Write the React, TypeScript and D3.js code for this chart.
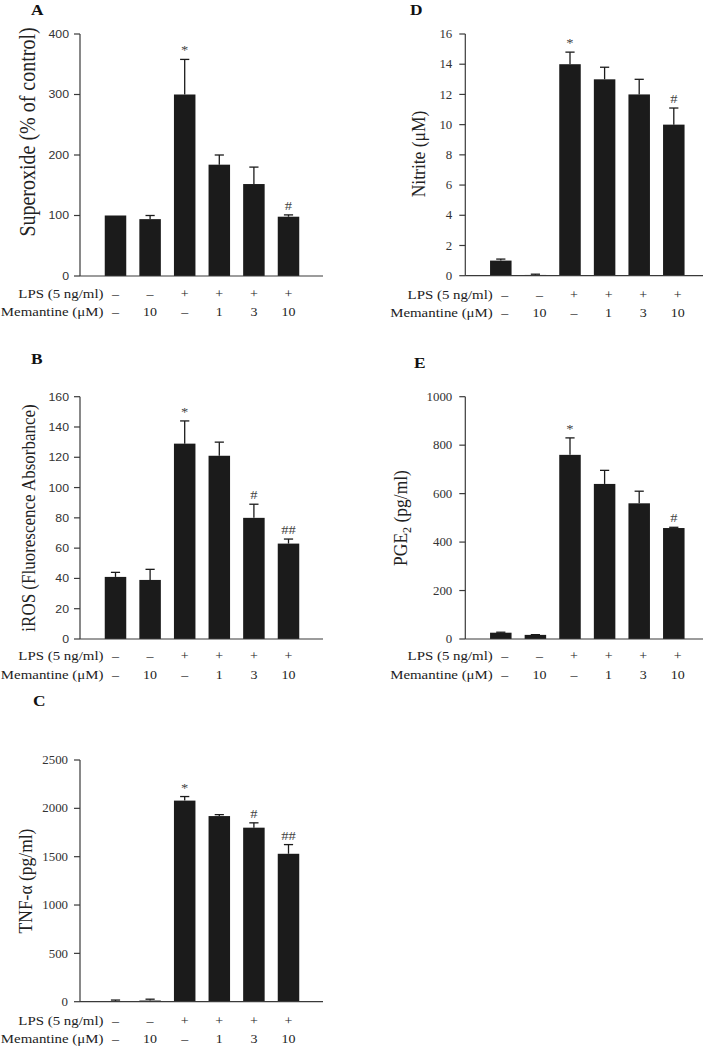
import React from "react";
import * as d3 from "d3";

// ---------- data ----------
const groups = ["g1", "g2", "g3", "g4", "g5", "g6"];
const lpsRow = ["–", "–", "+", "+", "+", "+"];
const memantineRow = ["–", "10", "–", "1", "3", "10"];

const superoxideMean = [100, 94, 300, 184, 152, 98];
const superoxideSem = [0, 6, 58, 16, 28, 3];
const superoxideSig = ["", "", "*", "", "", "#"];
const superoxideTicks = [0, 100, 200, 300, 400];

const irosMean = [41, 39, 129, 121, 80, 63];
const irosSem = [3, 7, 15, 9, 9, 3];
const irosSig = ["", "", "*", "", "#", "##"];
const irosTicks = [0, 20, 40, 60, 80, 100, 120, 140, 160];

const tnfMean = [5, 12, 2080, 1920, 1800, 1530];
const tnfSem = [12, 14, 42, 15, 50, 95];
const tnfSig = ["", "", "*", "", "#", "##"];
const tnfTicks = [0, 500, 1000, 1500, 2000, 2500];

const nitriteMean = [1.0, 0.05, 14.0, 13.0, 12.0, 10.0];
const nitriteSem = [0.1, 0.05, 0.8, 0.8, 1.0, 1.1];
const nitriteSig = ["", "", "*", "", "", "#"];
const nitriteTicks = [0, 2, 4, 6, 8, 10, 12, 14, 16];

const pgeMean = [26, 17, 760, 640, 560, 458];
const pgeSem = [2, 1, 70, 56, 50, 3];
const pgeSig = ["", "", "*", "", "", "#"];
const pgeTicks = [0, 200, 400, 600, 800, 1000];

// ---------- style ----------
const SX = 1.12;
const SERIF = "'Liberation Serif', 'Times New Roman', serif";
const SANS = "'Liberation Sans', Arial, sans-serif";
const BAR = "#1b1b1b";
const INK = "#222";
const AXIS = "#3a3a3a";

function T(props: any) {
  const { x, y, rotate, anchor = "start", size, family = SERIF, weight, fill = INK, children } = props;
  const tr = `translate(${x},${y}) scale(${SX},1)` + (rotate ? ` rotate(${rotate})` : "");
  return (
    <text transform={tr} textAnchor={anchor} fontSize={size} fontFamily={family} fontWeight={weight} fill={fill}>
      {children}
    </text>
  );
}

type PanelProps = {
  letter: string;
  letterX: number;
  letterY: number;
  x0: number;
  x1: number;
  yTop: number;
  yBot: number;
  ticks: number[];
  tickFamily: string;
  tickSize: number;
  tickGap: number;
  means: number[];
  sems: number[];
  sig: string[];
  title: React.ReactNode;
  titleX: number;
  titleY: number;
  titleSize: number;
  lpsY: number;
  memY: number;
  colShift: number;
};

function Panel(p: PanelProps) {
  const y = d3.scaleLinear().domain([0, d3.max(p.ticks) as number]).range([p.yBot, p.yTop]);
  const x = d3.scalePoint<string>().domain(groups).range([p.x0 + 35.5, p.x0 + 208.5]);
  const bw = 21.5;
  const cap = 4.6;
  const labelRight = (x(groups[0]) as number) + p.colShift - 12;
  return (
    <g>
      <T x={p.letterX} y={p.letterY} size={15.5} weight="bold" fill="#111">{p.letter}</T>
      {groups.map((g, i) => {
        const cx = x(g) as number;
        const top = y(p.means[i]);
        const errTop = y(p.means[i] + p.sems[i]);
        return (
          <g key={g}>
            {p.sems[i] > 0 && (
              <g stroke={BAR} strokeWidth={1.3}>
                <line x1={cx} x2={cx} y1={top} y2={errTop} />
                <line x1={cx - cap} x2={cx + cap} y1={errTop} y2={errTop} />
              </g>
            )}
            <rect x={cx - bw / 2} y={top} width={bw} height={p.yBot - top} fill={BAR} />
            {p.sig[i] && (
              <T x={cx} y={errTop - 5} anchor="middle" size={13} fill="#444">{p.sig[i]}</T>
            )}
          </g>
        );
      })}
      <line x1={p.x0} x2={p.x0} y1={p.yTop} y2={p.yBot} stroke={AXIS} strokeWidth={1.2} />
      <line x1={p.x0} x2={p.x1} y1={p.yBot} y2={p.yBot} stroke={AXIS} strokeWidth={1.2} />
      {p.ticks.map((t) => (
        <g key={t}>
          <line x1={p.x0 - 6} x2={p.x0} y1={y(t)} y2={y(t)} stroke={AXIS} strokeWidth={1.2} />
          <T x={p.x0 - p.tickGap} y={y(t) + p.tickSize * 0.36} anchor="end" size={p.tickSize} family={p.tickFamily} fill="#333">
            {String(t)}
          </T>
        </g>
      ))}
      <T x={p.titleX} y={p.titleY} rotate={-90} anchor="middle" size={p.titleSize}>{p.title}</T>
      <T x={labelRight} y={p.lpsY} anchor="end" size={13.3}>LPS (5 ng/ml)</T>
      <T x={labelRight} y={p.memY} anchor="end" size={13.3}>Memantine (μM)</T>
      {groups.map((g, i) => (
        <g key={"r" + g}>
          <T x={(x(g) as number) + p.colShift} y={p.lpsY} anchor="middle" size={12.5}>{lpsRow[i]}</T>
          <T x={(x(g) as number) + p.colShift} y={p.memY} anchor="middle" size={12.5}>{memantineRow[i]}</T>
        </g>
      ))}
    </g>
  );
}

export default function App() {
  return (
    <svg width={712} height={1050} style={{ position: "absolute", left: 0, top: 0, background: "#fff" }}>
      <rect width={712} height={1050} fill="#fff" />
      <Panel
        letter="A" letterX={31} letterY={15}
        x0={80} x1={323} yTop={34} yBot={276}
        ticks={superoxideTicks} tickFamily={SANS} tickSize={11} tickGap={11}
        means={superoxideMean} sems={superoxideSem} sig={superoxideSig}
        title="Superoxide (% of control)" titleX={35} titleY={132} titleSize={20}
        lpsY={298} memY={316} colShift={0}
      />
      <Panel
        letter="B" letterX={31} letterY={364}
        x0={80} x1={323} yTop={396.7} yBot={639}
        ticks={irosTicks} tickFamily={SANS} tickSize={11} tickGap={11}
        means={irosMean} sems={irosSem} sig={irosSig}
        title="iROS (Fluorescence Absorbance)" titleX={35} titleY={518} titleSize={17}
        lpsY={660} memY={679} colShift={0}
      />
      <Panel
        letter="C" letterX={33} letterY={706}
        x0={80} x1={323} yTop={760} yBot={1001.7}
        ticks={tnfTicks} tickFamily={SERIF} tickSize={11.5} tickGap={12}
        means={tnfMean} sems={tnfSem} sig={tnfSig}
        title="TNF-α (pg/ml)" titleX={31.5} titleY={881} titleSize={17.5}
        lpsY={1025} memY={1043} colShift={0}
      />
      <Panel
        letter="D" letterX={410} letterY={15}
        x0={465.3} x1={703} yTop={34} yBot={275.7}
        ticks={nitriteTicks} tickFamily={SERIF} tickSize={11.5} tickGap={13}
        means={nitriteMean} sems={nitriteSem} sig={nitriteSig}
        title="Nitrite (μM)" titleX={425} titleY={154} titleSize={17.5}
        lpsY={299} memY={317} colShift={4}
      />
      <Panel
        letter="E" letterX={414} letterY={367.7}
        x0={465.3} x1={703} yTop={396.7} yBot={639}
        ticks={pgeTicks} tickFamily={SERIF} tickSize={11.5} tickGap={13}
        means={pgeMean} sems={pgeSem} sig={pgeSig}
        title={<>PGE<tspan dy={4} fontSize={12}>2</tspan><tspan dy={-4}> (pg/ml)</tspan></>}
        titleX={406.7} titleY={518} titleSize={17.5}
        lpsY={660} memY={679} colShift={4}
      />
    </svg>
  );
}
